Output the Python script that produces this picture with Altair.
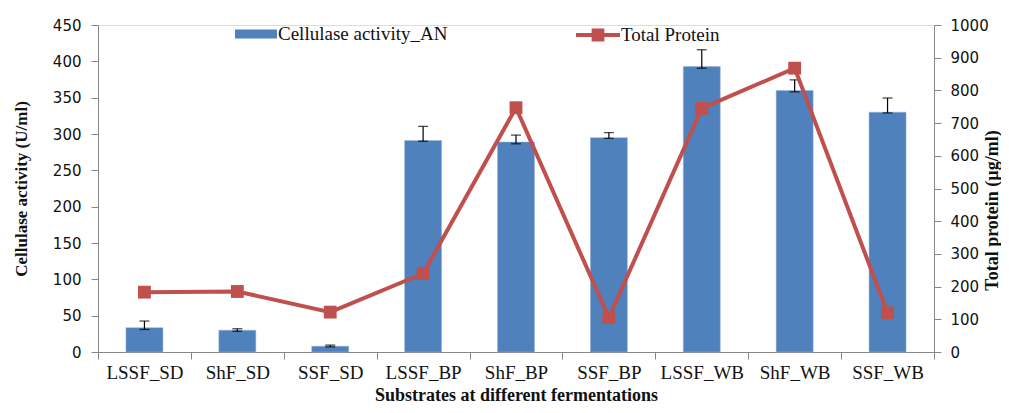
import altair as alt
import pandas as pd

categories = ["LSSF_SD", "ShF_SD", "SSF_SD", "LSSF_BP", "ShF_BP", "SSF_BP", "LSSF_WB", "ShF_WB", "SSF_WB"]
cellulase = [33.5, 30, 8, 291, 289, 295, 393, 360, 330]
err_low = [31, 28.5, 7, 290, 286.5, 294, 390.5, 358, 329]
err_high = [42.6, 32, 9.5, 310.5, 298.5, 302, 416, 374.5, 349.5]
protein = [183, 185, 122, 240, 747, 105, 745, 868, 120]

df = pd.DataFrame({
    "cat": categories,
    "cell": cellulase,
    "lo": err_low,
    "hi": err_high,
    "prot": protein,
    "s1": "Cellulase activity_AN",
    "s2": "Total Protein",
})

SERIF = "Liberation Serif"
SANS = "DejaVu Sans"
AXIS_GRAY = "#868686"
BLUE = "#4F81BD"
RED = "#C0504D"
TXT = "#111111"

x = alt.X("cat:N", sort=categories, title="Substrates at different fermentations",
          scale=alt.Scale(paddingInner=0, paddingOuter=0),
          axis=alt.Axis(labelAngle=0, tickBand="extent", domainColor=AXIS_GRAY, tickColor=AXIS_GRAY,
                        tickSize=7, labelFont=SERIF, labelFontSize=19, labelColor=TXT, labelPadding=4,
                        titleFont=SERIF, titleFontSize=18, titleFontWeight="bold", titleColor=TXT,
                        titleX=418, titleY=48, titleBaseline="alphabetic", titleAlign="center"))

yleft_scale = alt.Scale(domain=[0, 450])
yleft_axis = alt.Axis(values=list(range(0, 451, 50)), format="d", grid=False, domainColor=AXIS_GRAY,
                      tickColor=AXIS_GRAY, tickSize=7, labelFont=SANS, labelFontSize=15, labelColor=TXT,
                      labelPadding=10, titleFont=SERIF, titleFontSize=17, titleFontWeight="bold",
                      titleColor=TXT, titlePadding=22)
YL_TITLE = "Cellulase activity (U/ml)"

bar_sym = "M-1,-0.22H1V0.22H-1Z"
line_sym = "M-1,-0.09H1V0.09H-1Z M-0.29,-0.29H0.29V0.29H-0.29Z"

bars = alt.Chart(df).mark_bar(size=37, stroke="#9bb5d9", strokeWidth=0.5).encode(
    x=x,
    y=alt.Y("cell:Q", scale=yleft_scale, axis=yleft_axis, title=YL_TITLE),
    color=alt.Color("s1:N", scale=alt.Scale(domain=["Cellulase activity_AN"], range=[BLUE]),
                    legend=alt.Legend(orient="none", legendX=137, legendY=-12, title=None,
                                      symbolType=bar_sym, symbolSize=1764, symbolStrokeWidth=0,
                                      labelFont=SERIF, labelFontSize=19, labelColor=TXT,
                                      labelOffset=1, labelLimit=400, padding=0)),
)

err_rule = alt.Chart(df).mark_rule(color="black", strokeWidth=1.2).encode(
    x=alt.X("cat:N", sort=categories),
    y=alt.Y("lo:Q", scale=yleft_scale, axis=yleft_axis, title=YL_TITLE),
    y2="hi:Q",
)
err_lo_tick = alt.Chart(df).mark_tick(color="black", size=10, thickness=1.3, orient="horizontal").encode(
    x=alt.X("cat:N", sort=categories),
    y=alt.Y("lo:Q", scale=yleft_scale, axis=yleft_axis, title=YL_TITLE),
)
err_hi_tick = alt.Chart(df).mark_tick(color="black", size=10, thickness=1.3, orient="horizontal").encode(
    x=alt.X("cat:N", sort=categories),
    y=alt.Y("hi:Q", scale=yleft_scale, axis=yleft_axis, title=YL_TITLE),
)

left = alt.layer(bars, err_rule, err_lo_tick, err_hi_tick)

yright_scale = alt.Scale(domain=[0, 1000])
yright_axis = alt.Axis(orient="right", values=list(range(0, 1001, 100)), format="d", grid=False,
                       domainColor=AXIS_GRAY, tickColor=AXIS_GRAY, tickSize=7, labelFont=SANS,
                       labelFontSize=15, labelColor=TXT, labelPadding=9, titleFont=SERIF,
                       titleFontSize=18, titleFontWeight="bold", titleColor=TXT, titleAngle=270,
                       titleX=58, titleY=185, titleBaseline="middle", titleAlign="center")
YR_TITLE = "Total protein (µg/ml)"

line = alt.Chart(df).mark_line(color=RED, strokeWidth=4).encode(
    x=alt.X("cat:N", sort=categories),
    y=alt.Y("prot:Q", scale=yright_scale, axis=yright_axis, title=YR_TITLE),
)
pts = alt.Chart(df).mark_square(size=165, opacity=1).encode(
    x=alt.X("cat:N", sort=categories),
    y=alt.Y("prot:Q", scale=yright_scale, axis=yright_axis, title=YR_TITLE),
    color=alt.Color("s2:N", scale=alt.Scale(domain=["Total Protein"], range=[RED]),
                    legend=alt.Legend(orient="none", legendX=478, legendY=-12, title=None,
                                      symbolType=line_sym, symbolSize=1936, symbolStrokeWidth=0,
                                      labelFont=SERIF, labelFontSize=19, labelColor=TXT,
                                      labelOffset=1, labelLimit=400, padding=0)),
)
right = alt.layer(line, pts)

chart = alt.layer(left, right).resolve_scale(y="independent", color="independent").properties(
    width=836, height=327,
    autosize=alt.AutoSizeParams(type="none"),
    padding={"left": 90, "top": 17, "right": 67, "bottom": 53},
).configure_view(stroke=None).configure(background="white")

chart.save("out.html", embed_options={"renderer": "svg", "actions": False})
